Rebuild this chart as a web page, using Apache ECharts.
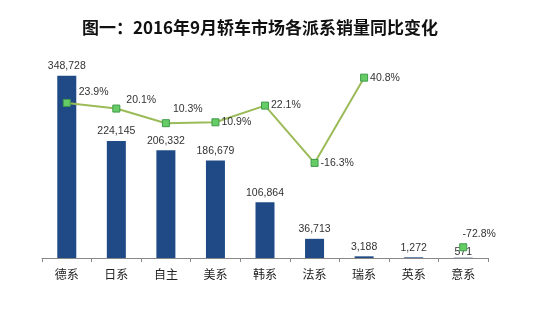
<!DOCTYPE html>
<html><head><meta charset="utf-8">
<script src="https://cdn.jsdelivr.net/npm/echarts@6/dist/echarts.min.js"></script>
<style>html,body{margin:0;padding:0;background:#fff}#c{width:550px;height:336px}</style>
</head><body><div id="c"></div>
<script>
const categories = ['德系','日系','自主','美系','韩系','法系','瑞系','英系','意系'];
const sales = [348728, 224145, 206332, 186679, 106864, 36713, 3188, 1272, 571];
const growth = [23.9, 20.1, 10.3, 10.9, 22.1, -16.3, 40.8, null, -72.8];
const titleText = '图一：2016年9月轿车市场各派系销量同比变化';

const labelOffsets = [[4,-11],[2,-8],[-1,-14],[-2,0],[-2,0],[-2,0],[-2,0],[0,0],null];
const lineData = growth.map((v,i)=>{
  if (v === null) return null;
  const o = labelOffsets[i];
  if (o === null) return {value:v, label:{position:'top', offset:[16,0]}};
  return {value:v, label:{position:'right', offset:o}};
});
const barData = sales.map((v,i)=> i===8 ? {value:v, label:{distance:0}} : v);

const chart = echarts.init(document.getElementById('c'));
chart.setOption({
  animation:false,
  backgroundColor:'#fff',
  title:{text:titleText, left:255, top:14, textAlign:'center',
    textStyle:{fontFamily:'Noto Sans CJK SC', fontWeight:'bold', fontSize:17, color:'#111'}},
  grid:{left:42, right:62, top:49, bottom:78},
  xAxis:{type:'category', data:categories, boundaryGap:true,
    axisLine:{lineStyle:{color:'#888'}},
    axisTick:{show:true, length:4, lineStyle:{color:'#888'}},
    axisLabel:{margin:10, fontFamily:'Noto Sans CJK SC', fontSize:12, color:'#222'}},
  yAxis:[
    {type:'value', min:0, max:400000, show:false, splitLine:{show:false}},
    {type:'value', min:-80, max:60, show:false, splitLine:{show:false}}
  ],
  series:[
    {type:'bar', data:barData, barWidth:19, yAxisIndex:0,
      itemStyle:{color:'#1F4A86'},
      label:{show:true, position:'top', distance:4, fontFamily:'Liberation Sans', fontSize:10.5, color:'#333',
        formatter:p=>p.value.toLocaleString('en-US')}},
    {type:'line', data:lineData, yAxisIndex:1, connectNulls:false,
      symbol:'rect', symbolSize:7,
      lineStyle:{color:'#9BBB59', width:2},
      itemStyle:{color:'#66CC66', borderColor:'#3f9a4a', borderWidth:1},
      label:{show:true, distance:4, fontFamily:'Liberation Sans', fontSize:10.5, color:'#333',
        formatter:p=>p.value.toFixed(1)+'%'}}
  ]
});
</script></body></html>
